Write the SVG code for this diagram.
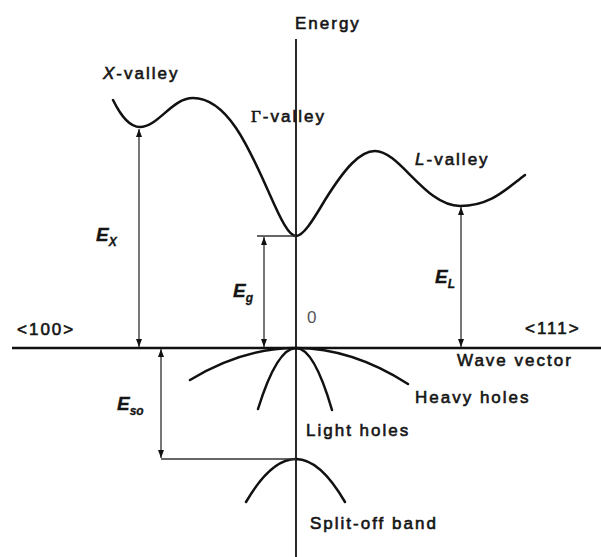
<svg xmlns="http://www.w3.org/2000/svg" width="601" height="557" viewBox="0 0 601 557">
<defs>
<style>
.t{font-family:"Liberation Sans",Arial,sans-serif;font-size:17px;letter-spacing:2px;fill:#151515;stroke:#151515;stroke-width:0.6}
.e{font-size:19px;font-style:italic;font-weight:bold;letter-spacing:0;stroke-width:0.3}
.sub{font-size:12px;font-style:italic;letter-spacing:0}
.gray{fill:#555;stroke:none}
.band{fill:none;stroke:#111;stroke-width:2.5;stroke-linecap:round}
.axis{fill:none;stroke:#111;stroke-width:2.4}
.vaxis{fill:none;stroke:#111;stroke-width:1.8}
.dim{fill:none;stroke:#555;stroke-width:1.6}
.ref{fill:none;stroke:#333;stroke-width:1.6}
</style>
<marker id="ah" viewBox="0 0 8 6" refX="8" refY="3" markerWidth="8" markerHeight="6" markerUnits="userSpaceOnUse" orient="auto-start-reverse">
<path d="M0,0 L8,3 L0,6 z" fill="#111"/>
</marker>
</defs>
<g id="axes">
<line class="vaxis" x1="296" y1="39" x2="296" y2="557"/>
<line class="axis" x1="12" y1="348" x2="601" y2="348"/>
</g>
<g id="conduction-band">
<path class="band" d="M113,100 C122,118 130,127 140,127 C158,127 172,98 193,98 C228,98 250,150 270,195 C281,220 289,236 296,236 C303,236 312,222 325,200 C345,168 360,151 375,151 C400,151 425,206 460,206 C490,206 505,190 525,175"/>
</g>
<g id="heavy-holes">
<path class="band" d="M190,380 Q243,348 296,348 Q352,348 408,384"/>
</g>
<g id="light-holes">
<path class="band" d="M258,409 Q277,348 296,348 Q314,348 332,410"/>
</g>
<g id="split-off">
<path class="band" d="M246,502 Q271,459 296,459 Q320,459 345,502"/>
</g>
<g id="connectors">
<line class="dim" x1="139" y1="129" x2="139" y2="347" marker-start="url(#ah)" marker-end="url(#ah)"/>
<line class="ref" x1="257" y1="236" x2="296" y2="236"/>
<line class="dim" x1="264" y1="237" x2="264" y2="347" marker-start="url(#ah)" marker-end="url(#ah)"/>
<line class="dim" x1="461" y1="207" x2="461" y2="347" marker-start="url(#ah)" marker-end="url(#ah)"/>
<line class="ref" x1="161" y1="459" x2="296" y2="459"/>
<line class="dim" x1="161" y1="349" x2="161" y2="458" marker-start="url(#ah)" marker-end="url(#ah)"/>
</g>
<g id="labels">
<text class="t" x="295" y="29">Energy</text>
<text class="t" x="103" y="79"><tspan font-style="italic">X</tspan>-valley</text>
<text class="t" x="251" y="122"><tspan font-family="'Liberation Serif',serif">Γ</tspan>-valley</text>
<text class="t" x="415" y="165"><tspan font-style="italic">L</tspan>-valley</text>
<text class="t e" x="96" y="241">E<tspan class="sub" dy="5">X</tspan></text>
<text class="t e" x="233" y="297">E<tspan class="sub" dy="5">g</tspan></text>
<text class="t e" x="435" y="283">E<tspan class="sub" dy="5">L</tspan></text>
<text class="t e" x="117" y="410">E<tspan class="sub" dy="5">so</tspan></text>
<text class="t gray" x="307" y="323">0</text>
<text class="t" x="17" y="335">&lt;100&gt;</text>
<text class="t" x="525" y="334">&lt;111&gt;</text>
<text class="t" x="457" y="366">Wave vector</text>
<text class="t" x="415" y="403">Heavy holes</text>
<text class="t" x="306" y="436">Light holes</text>
<text class="t" x="310" y="529">Split-off band</text>
</g>
</svg>
